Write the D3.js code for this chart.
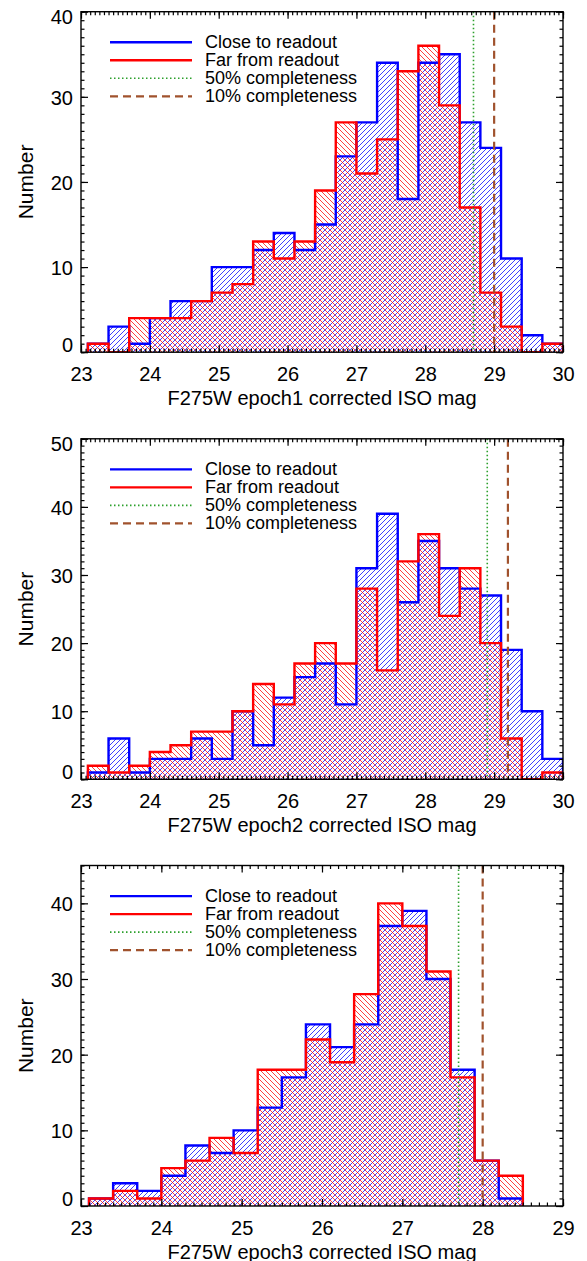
<!DOCTYPE html>
<html>
<head>
	<meta charset="utf-8">
	<title>F275W histograms</title>
	<script src="https://d3js.org/d3.v7.min.js"></script>
	<style>
		body { margin: 0; background: #fff; }
		text { font-family: 'Liberation Sans', Arial, Helvetica, sans-serif; fill: #000; }
		.axis path { display: none; }
		.axis line { stroke: #000; stroke-width: 1.2; }
	</style>
</head>
<body>
<script>
	// bin lower edges (mag), common to all three epochs
	var binLo = [23.1, 23.4, 23.7, 24.0, 24.3, 24.6, 24.9, 25.2, 25.5, 25.8, 26.1, 26.4,
	             26.7, 27.0, 27.3, 27.6, 27.9, 28.2, 28.5, 28.8, 29.1, 29.4, 29.7];
	var binWidth = 0.3;

	// counts
	var close1 = [1, 3, 1, 4, 6, 6, 10, 10, 12, 14, 12, 15, 23, 27, 34, 18, 34, 35, 27, 24, 11, 2, 1];
	var far1   = [1, 0, 4, 4, 4, 6, 7, 8, 13, 11, 13, 19, 27, 21, 25, 33, 36, 29, 17, 7, 3, 0, 1];
	var close2 = [1, 6, 1, 3, 3, 6, 3, 10, 5, 12, 15, 17, 11, 31, 39, 26, 35, 31, 28, 27, 19, 10, 3];
	var far2   = [2, 1, 2, 4, 5, 7, 7, 10, 14, 11, 17, 20, 17, 28, 16, 32, 36, 24, 31, 20, 6, 0, 1];
	var close3 = [1, 3, 2, 4, 8, 7, 10, 13, 17, 24, 21, 24, 37, 39, 30, 18, 6, 1];
	var far3   = [1, 2, 1, 5, 6, 9, 7, 18, 18, 22, 19, 28, 40, 37, 31, 17, 6, 4];

	// completeness limits (mag)
	var compl50 = [28.7, 28.9, 27.7];
	var compl10 = [29.0, 29.2, 28.0];

	var xMax = [30, 30, 29];
	var yMax = [40, 50, 45];
	var yTicks = [[0, 10, 20, 30, 40], [0, 10, 20, 30, 40, 50], [0, 10, 20, 30, 40]];
	var xMinorPerMag = [15, 15, 10];
	var titles = ["F275W epoch1 corrected ISO mag", "F275W epoch2 corrected ISO mag", "F275W epoch3 corrected ISO mag"];
	var legendLabels = ["Close to readout", "Far from readout", "50% completeness", "10% completeness"];

	// layout
	var W = 587, H = 1261;
	var left = 81, right = 563, plotH = 340.5;
	var panelTop = [11.7, 438.8, 865.5];

	var svg = d3.select("body").append("svg")
			.attr("width", W)
			.attr("height", H);

	// hatch patterns: "/" for close, "\" for far
	var defs = svg.append("defs");
	var hs = 5;
	defs.append("pattern")
			.attr("id", "hatchBlue")
			.attr("patternUnits", "userSpaceOnUse")
			.attr("width", hs).attr("height", hs)
			.append("path")
			.attr("d", "M0," + hs + "L" + hs + ",0M-1,1L1,-1M" + (hs - 1) + "," + (hs + 1) + "L" + (hs + 1) + "," + (hs - 1))
			.attr("stroke", "#0000ff").attr("stroke-width", 0.75);
	defs.append("pattern")
			.attr("id", "hatchRed")
			.attr("patternUnits", "userSpaceOnUse")
			.attr("width", hs).attr("height", hs)
			.append("path")
			.attr("d", "M0,0L" + hs + "," + hs + "M-1," + (hs - 1) + "L1," + (hs + 1) + "M" + (hs - 1) + ",-1L" + (hs + 1) + ",1")
			.attr("stroke", "#ff0000").attr("stroke-width", 0.75);

	var series = [[close1, far1], [close2, far2], [close3, far3]];

	series.forEach(function(s, i) { drawPanel(s, i); });

	function stepPoints(counts) {
		var pts = [[binLo[0], 0]];
		counts.forEach(function(c, k) {
			pts.push([binLo[k], c]);
			pts.push([binLo[k] + binWidth, c]);
		});
		pts.push([binLo[counts.length - 1] + binWidth, 0]);
		return pts;
	}

	function drawPanel(s, i) {
		var top = panelTop[i], bottom = top + plotH;
		var x = d3.scaleLinear().domain([23, xMax[i]]).range([left, right]);
		var y = d3.scaleLinear().domain([0, yMax[i]]).range([bottom, top]);
		var g = svg.append("g");

		g.append("clipPath").attr("id", "clip" + i)
				.append("rect")
				.attr("x", left).attr("y", top)
				.attr("width", right - left).attr("height", plotH);

		var line = d3.line().x(function(d) { return x(d[0]); }).y(function(d) { return y(d[1]); });
		var hist = g.append("g").attr("clip-path", "url(#clip" + i + ")");

		// hatched fills: blue (close) then red (far)
		hist.append("path").attr("d", line(stepPoints(s[0])) + "Z").attr("fill", "url(#hatchBlue)");
		hist.append("path").attr("d", line(stepPoints(s[1])) + "Z").attr("fill", "url(#hatchRed)");
		// outlines
		hist.append("path").attr("d", line(stepPoints(s[0])))
				.attr("fill", "none").attr("stroke", "#0000ff").attr("stroke-width", 2.4);
		hist.append("path").attr("d", line(stepPoints(s[1])))
				.attr("fill", "none").attr("stroke", "#ff0000").attr("stroke-width", 2.4);

		// completeness lines
		hist.append("line")
				.attr("x1", x(compl50[i])).attr("x2", x(compl50[i]))
				.attr("y1", top).attr("y2", bottom)
				.attr("stroke", "#2ca02c").attr("stroke-width", 1.6)
				.attr("stroke-dasharray", "1.5,2.5");
		hist.append("line")
				.attr("x1", x(compl10[i])).attr("x2", x(compl10[i]))
				.attr("y1", top).attr("y2", bottom)
				.attr("stroke", "#a0522d").attr("stroke-width", 2.2)
				.attr("stroke-dasharray", "8,5");

		// axes, ticks inside on all four sides
		var xMajor = d3.range(23, xMax[i] + 0.001, 1);
		var xMinor = d3.range(0, (xMax[i] - 23) * xMinorPerMag[i] + 0.5).map(function(k) { return 23 + k / xMinorPerMag[i]; });
		var yMinor = d3.range(0, yMax[i] + 0.5, 1);

		var xb = g.append("g").attr("class", "axis").attr("transform", "translate(0," + bottom + ")")
				.call(d3.axisBottom(x).tickValues(xMajor).tickFormat(d3.format("d")).tickSize(-7).tickSizeOuter(0).tickPadding(15));
		xb.selectAll("text").attr("font-size", "20px");
		g.append("g").attr("class", "axis").attr("transform", "translate(0," + bottom + ")")
				.call(d3.axisBottom(x).tickValues(xMinor).tickFormat("").tickSize(-3.5).tickSizeOuter(0));
		g.append("g").attr("class", "axis").attr("transform", "translate(0," + top + ")")
				.call(d3.axisTop(x).tickValues(xMajor).tickFormat("").tickSize(-7).tickSizeOuter(0));
		g.append("g").attr("class", "axis").attr("transform", "translate(0," + top + ")")
				.call(d3.axisTop(x).tickValues(xMinor).tickFormat("").tickSize(-3.5).tickSizeOuter(0));

		var yl = g.append("g").attr("class", "axis").attr("transform", "translate(" + left + ",0)")
				.call(d3.axisLeft(y).tickValues(yTicks[i]).tickSize(-7).tickSizeOuter(0).tickPadding(8));
		yl.selectAll("text").attr("font-size", "20px")
				.attr("dy", function(d) {
					if (d === 0) return "-0.02em";
					if (d === yMax[i]) return "0.58em";
					return "0.38em";
				});
		g.append("g").attr("class", "axis").attr("transform", "translate(" + left + ",0)")
				.call(d3.axisLeft(y).tickValues(yMinor).tickFormat("").tickSize(-3.5).tickSizeOuter(0));
		g.append("g").attr("class", "axis").attr("transform", "translate(" + right + ",0)")
				.call(d3.axisRight(y).tickValues(yTicks[i]).tickFormat("").tickSize(-7).tickSizeOuter(0));
		g.append("g").attr("class", "axis").attr("transform", "translate(" + right + ",0)")
				.call(d3.axisRight(y).tickValues(yMinor).tickFormat("").tickSize(-3.5).tickSizeOuter(0));

		// frame
		g.append("rect")
				.attr("x", left).attr("y", top)
				.attr("width", right - left).attr("height", plotH)
				.attr("fill", "none").attr("stroke", "#000").attr("stroke-width", 1.4);

		// axis titles
		g.append("text")
				.attr("x", (left + right) / 2).attr("y", bottom + 52.5)
				.attr("text-anchor", "middle").attr("font-size", "20px")
				.text(titles[i]);
		g.append("text")
				.attr("transform", "translate(33," + ((top + bottom) / 2) + ") rotate(-90)")
				.attr("text-anchor", "middle").attr("font-size", "21px")
				.text("Number");

		// legend
		var styles = [
			{stroke: "#0000ff", width: 2.4, dash: null},
			{stroke: "#ff0000", width: 2.4, dash: null},
			{stroke: "#2ca02c", width: 1.6, dash: "1.5,2.5"},
			{stroke: "#a0522d", width: 2.2, dash: "8,5"}
		];
		var leg = g.append("g").attr("transform", "translate(0," + top + ")");
		legendLabels.forEach(function(lab, k) {
			var ly = 30.6 + k * 18;
			leg.append("line")
					.attr("x1", 110).attr("x2", 192)
					.attr("y1", ly).attr("y2", ly)
					.attr("stroke", styles[k].stroke)
					.attr("stroke-width", styles[k].width)
					.attr("stroke-dasharray", styles[k].dash);
			leg.append("text")
					.attr("x", 205).attr("y", ly + 5.8)
					.attr("font-size", "18px")
					.text(lab);
		});
	}
</script>
</body>
</html>
